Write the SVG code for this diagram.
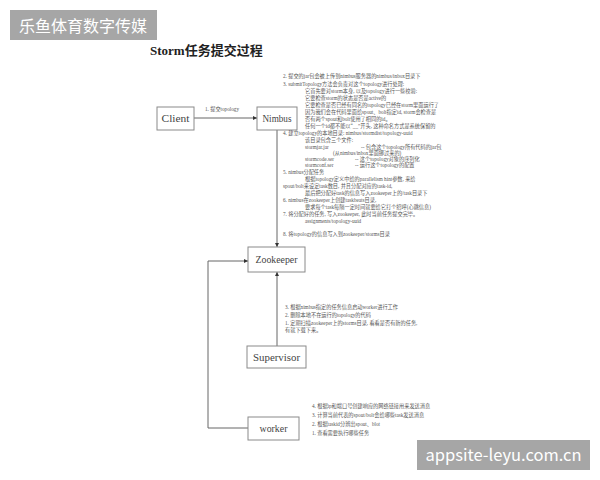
<svg xmlns="http://www.w3.org/2000/svg" width="600" height="480" viewBox="0 0 600 480">
<style>
.node rect{fill:#fff;stroke:#8a8a8a;stroke-width:1}
.nl{font-family:"Liberation Serif","Noto Sans CJK SC",serif;font-size:10.5px;fill:#444;text-anchor:middle}
.t{font-family:"Liberation Serif","Noto Sans CJK SC",serif;font-size:5.2px;fill:#555}
.conn{fill:none;stroke:#666;stroke-width:1}
.wm rect{fill:#a6a6a6}
.wm text{fill:#fff;font-family:"Noto Sans CJK SC","Noto Sans",sans-serif}
</style>
<defs>
<marker id="ah" viewBox="0 0 6 6" refX="6" refY="3" markerWidth="4" markerHeight="4" orient="auto">
<path d="M0,0 L6,3 L0,6 z" fill="#333"/>
</marker>
</defs>
<rect width="600" height="480" fill="#fff"/>
<g class="wm" id="wm1"><rect x="10" y="10" width="147" height="30"/><text x="19" y="32" font-size="16">乐鱼体育数字传媒</text></g>
<text x="150" y="55" font-family="'Liberation Serif','Noto Sans CJK SC',serif" font-size="13" font-weight="bold" fill="#222">Storm任务提交过程</text>

<g id="connectors">
<path class="conn" d="M194,118 L257,118" marker-end="url(#ah)"/>
<path class="conn" d="M277,130 L277,247" marker-end="url(#ah)"/>
<path class="conn" d="M277,346 L277,272" marker-end="url(#ah)"/>
<path class="conn" d="M248,428 L208,428 L208,261 L248,261" marker-end="url(#ah)"/>
<text class="t" x="205" y="111">1. 提交topology</text>
</g>

<g id="client" class="node"><rect x="157" y="107" width="37" height="23"/><text class="nl" x="175.5" y="122" textLength="28" lengthAdjust="spacingAndGlyphs">Client</text></g>
<g id="nimbus" class="node"><rect x="257" y="107" width="40" height="23"/><text class="nl" x="277" y="122" textLength="29" lengthAdjust="spacingAndGlyphs">Nimbus</text></g>
<g id="zookeeper" class="node"><rect x="248" y="247" width="57" height="25"/><text class="nl" x="276.5" y="263" textLength="42" lengthAdjust="spacingAndGlyphs">Zookeeper</text></g>
<g id="supervisor" class="node"><rect x="247" y="346" width="59" height="22"/><text class="nl" x="276.5" y="360.5" textLength="47" lengthAdjust="spacingAndGlyphs">Supervisor</text></g>
<g id="worker" class="node"><rect x="248" y="417" width="51" height="23"/><text class="nl" x="273.5" y="431.5" textLength="28" lengthAdjust="spacingAndGlyphs">worker</text></g>

<g id="nimbus-notes">
<text class="t" x="283" y="78">2. 提交的jar包会被上传到nimbus服务器的nimbus/inbox目录下</text>
<text class="t" x="283" y="86">3. submitTopology方法会负责对这个topology进行处理:</text>
<text class="t" x="305" y="93">它首先要对storm本身, 以及topology进行一些校验:</text>
<text class="t" x="305" y="100">它要检查storm的状态是否是active的</text>
<text class="t" x="305" y="107">它要检查是否已经有同名的topology已经在storm里面运行了</text>
<text class="t" x="305" y="114">因为我们会在代码里面给spout、bolt指定id, storm会检查是</text>
<text class="t" x="305" y="121">否有两个spout和bolt使用了相同的id。</text>
<text class="t" x="305" y="128">任何一个id都不能以“__”开头, 这种命名方式是系统保留的</text>
<text class="t" x="283" y="135">4. 建立topology的本地目录: nimbus/stormdist/topology-uuid</text>
<text class="t" x="305" y="142">该目录包含三个文件:</text>
<text class="t" x="305" y="148.5">stormjar.jar</text><text class="t" x="361" y="148.5">-- 包含这个topology所有代码的jar包</text>
<text class="t" x="333" y="155">(从nimbus/inbox里面挪过来的)</text>
<text class="t" x="305" y="161">stormcode.ser</text><text class="t" x="355" y="161">-- 这个topology对象的序列化</text>
<text class="t" x="305" y="167">stormconf.ser</text><text class="t" x="355" y="167">-- 运行这个topology的配置</text>
<text class="t" x="283" y="174">5. nimbus分配任务</text>
<text class="t" x="305" y="181">根据topology定义中给的parallelism hint参数, 来给</text>
<text class="t" x="283" y="188">spout/bolt来设定task数目, 并且分配对应的task-id,</text>
<text class="t" x="305" y="195">最后把分配好task的信息写入zookeeper上的/task目录下</text>
<text class="t" x="283" y="202">6. nimbus在zookeeper上创建taskbeats目录,</text>
<text class="t" x="305" y="209">要求每个task每隔一定时间就要给它打个招呼(心跳信息)</text>
<text class="t" x="283" y="216">7. 将分配好的任务, 写入zookeeper, 此时当前任务提交完毕。</text>
<text class="t" x="305" y="223">assignments/topology-uuid</text>
<text class="t" x="283" y="236">8. 将topology的信息写入到zookeeper/storms目录</text>
</g>

<g id="supervisor-notes">
<text class="t" x="285" y="309">3. 根据nimbus指定的任务信息启动worker进行工作</text>
<text class="t" x="285" y="317">2. 删除本地不在运行的topology的代码</text>
<text class="t" x="285" y="325">1. 定期扫描zookeeper上的storms目录, 看看是否有新的任务,</text>
<text class="t" x="285" y="332">有就下载下来。</text>
</g>

<g id="worker-notes">
<text class="t" x="312" y="408">4. 根据ip和端口号创建响应的网络链接用来发送消息</text>
<text class="t" x="312" y="417">3. 计算当前代表的spout/bolt会给哪些task发送消息</text>
<text class="t" x="312" y="426">2. 根据taskid分辨出spout、blot</text>
<text class="t" x="312" y="435">1. 查看需要执行哪些任务</text>
</g>

<g class="wm" id="wm2"><rect x="417" y="440" width="173" height="30"/><text x="503.5" y="461" font-size="16.5" text-anchor="middle">appsite-leyu.com.cn</text></g>
</svg>
